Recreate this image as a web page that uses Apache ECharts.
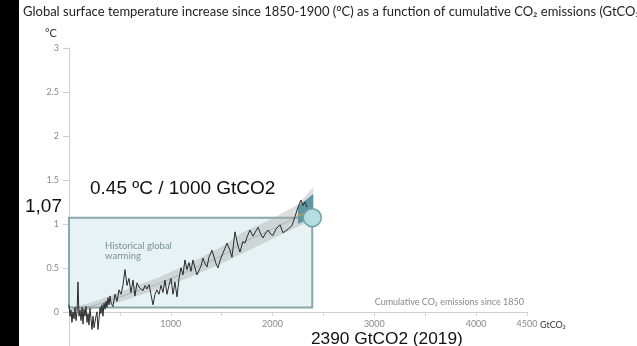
<!DOCTYPE html>
<html>
<head>
<meta charset="utf-8">
<script src="https://cdn.jsdelivr.net/npm/echarts@6/dist/echarts.min.js"></script>
<style>
  html, body { margin: 0; padding: 0; background: #fff; }
  #chart { width: 637px; height: 346px; }
</style>
</head>
<body>
<div id="chart"></div>
<script>
// Cumulative CO2 emissions since 1850 (GtCO2), one entry per year of the record
const cumulativeEmissions = [
  0, 10, 20, 29, 39, 49, 59, 69, 79, 88, 98, 108, 118, 128, 138, 147, 157, 167, 177, 187,
  196, 206, 216, 226, 236, 246, 255, 265, 275, 285, 295, 305, 314, 324, 334, 344, 354, 364, 373, 383,
  393, 403, 413, 432, 452, 472, 491, 511, 530, 550, 570, 589, 609, 629, 648, 668, 688, 707, 727, 747,
  766, 786, 805, 825, 845, 864, 884, 904, 923, 943, 963, 982, 1002, 1022, 1041, 1061, 1081, 1100, 1120, 1139,
  1159, 1179, 1198, 1218, 1238, 1257, 1277, 1297, 1316, 1336, 1356, 1375, 1405, 1424, 1444, 1464, 1483, 1513, 1532, 1552,
  1582, 1601, 1631, 1660, 1680, 1709, 1729, 1749, 1778, 1808, 1827, 1857, 1886, 1906, 1935, 1955, 1984, 2004, 2033, 2073,
  2102, 2131, 2161, 2191, 2220, 2250, 2279, 2299, 2318, 2338
];
// Observed global surface warming relative to 1850-1900 (°C)
const observedWarming = [
  0.08, -0.05, 0.02, -0.12, 0.0, -0.08, 0.05, -0.1, 0.0, 0.34, -0.05, 0.02, -0.1, 0.05, -0.14, 0.03, -0.05, 0.06, -0.12, -0.02,
  -0.15, 0.04, -0.08, -0.2, -0.05, -0.18, -0.17, -0.05, 0.0, -0.2, -0.08, 0.05, -0.02, 0.08, -0.05, 0.1, 0.03, 0.12, 0.05, 0.16,
  0.08, 0.18, 0.1, 0.06, 0.2, 0.12, 0.25, 0.2, 0.3, 0.48, 0.3, 0.38, 0.22, 0.36, 0.18, 0.33, 0.28, 0.3, 0.24, 0.3,
  0.26, 0.31, 0.2, 0.08, 0.2, 0.25, 0.2, 0.3, 0.22, 0.36, 0.2, 0.3, 0.38, 0.2, 0.34, 0.17, 0.38, 0.5, 0.42, 0.59,
  0.48, 0.56, 0.46, 0.59, 0.5, 0.42, 0.47, 0.52, 0.61, 0.55, 0.51, 0.62, 0.7, 0.68, 0.55, 0.5, 0.58, 0.67, 0.72, 0.78,
  0.7, 0.62, 0.91, 0.75, 0.68, 0.8, 0.78, 0.85, 0.93, 0.86, 0.85, 0.96, 0.88, 0.84, 0.9, 0.93, 0.88, 0.87, 0.94, 0.99,
  0.9, 0.92, 0.95, 0.98, 1.08, 1.19, 1.27, 1.21, 1.25, 1.19
];

// Likely range of the warming response to cumulative emissions
const rangeEmissions = [0, 200, 400, 600, 900, 1200, 1500, 1700, 2000, 2250, 2400];
const rangeLower     = [0, 0.02, 0.08, 0.15, 0.27, 0.4, 0.55, 0.66, 0.83, 0.97, 1.04];
const rangeUpper     = [0.04, 0.1, 0.18, 0.27, 0.4, 0.56, 0.74, 0.9, 1.06, 1.22, 1.42];
const rangeCentral   = [0.02, 0.06, 0.13, 0.21, 0.33, 0.48, 0.64, 0.78, 0.94, 1.09, 1.2];

// Recent-period projection wedge and its central estimate
const wedgeEmissions = [2250, 2400, 2400, 2250];
const wedgeWarming   = [1.2, 1.34, 1.08, 1.0];
const recentCentralEmissions = [2240, 2338];
const recentCentralWarming   = [1.09, 1.13];

// 2019 reference point
const emissions2019 = 2390;
const warming2019 = 1.07;
const boxBase = 0.05;

// Axis ticks and labels
const xTicks = [0, 500, 1000, 1500, 2000, 2500, 3000, 3500, 4000, 4500];
const xLabels = [1000, 2000, 3000, 4000, 4500];
const yLabels = [0, 0.5, 1, 1.5, 2, 2.5, 3];

// Texts
const titleText = 'Global surface temperature increase since 1850-1900 (°C) as a function of cumulative CO₂ emissions (GtCO₂)';
const xAxisTitle = 'Cumulative CO₂ emissions since 1850';
const xUnit = 'GtCO₂';
const yUnit = '°C';
const historyLabel = 'Historical global\nwarming';
const rateLabel = '0.45 ºC / 1000 GtCO2';
const warmingLabel = '1,07';
const emissionsLabel = '2390 GtCO2 (2019)';

const chart = echarts.init(document.getElementById('chart'), null, { renderer: 'canvas' });

const observed = cumulativeEmissions.map((e, i) => [e, observedWarming[i]]);
const rangeData = rangeEmissions.map((e, i) => [e, rangeLower[i], rangeUpper[i]]);
const centralData = rangeEmissions.map((e, i) => [e, rangeCentral[i]]);
const wedgeData = wedgeEmissions.map((e, i) => [e, wedgeWarming[i]]);
const recentCentral = recentCentralEmissions.map((e, i) => [e, recentCentralWarming[i]]);

function polygonSeries(name, points, style, z) {
  return {
    name, type: 'custom', z, silent: true, clip: false,
    data: [0],
    encode: { x: [], y: [] },
    renderItem: function (params, api) {
      return { type: 'polygon', shape: { points: points(api) }, style };
    }
  };
}

const font = 'Lato, "Open Sans", sans-serif';
const bigFont = '"Liberation Sans", Arial, sans-serif';

// Plot area; the warming axis runs a little below zero
const gridBox = { left: 69, top: 48, width: 458, height: 299 };
const yMin = -0.4, yMax = 3;
// shift the emissions axis up from the grid bottom to the zero line
const xAxisOffset = -gridBox.height * (0 - yMin) / (yMax - yMin);

chart.setOption({
  animation: false,
  backgroundColor: '#ffffff',
  title: {
    text: titleText,
    left: 18, top: 0,
    textStyle: { fontFamily: font, fontSize: 13, fontWeight: 'normal', color: '#222' }
  },
  grid: Object.assign({ outerBoundsMode: 'none', containLabel: false }, gridBox),
  xAxis: {
    type: 'value', min: 0, max: 4500, interval: 500,
    position: 'bottom', offset: xAxisOffset,
    name: xAxisTitle,
    nameLocation: 'end', nameGap: -3,
    nameTextStyle: { fontFamily: font, fontSize: 9, color: '#8a8a8a', align: 'right', verticalAlign: 'bottom', padding: [0, 0, 5, 0] },
    axisLine: { onZero: false, lineStyle: { color: '#cfcfcf', width: 1 } },
    axisTick: { show: true, length: 4, lineStyle: { color: '#cfcfcf' }, customValues: xTicks },
    axisLabel: {
      customValues: xLabels, margin: 8, fontFamily: font, fontSize: 9, color: '#8a8a8a',
      formatter: v => String(v)
    },
    splitLine: { show: false }
  },
  yAxis: {
    type: 'value', min: yMin, max: yMax,
    axisLine: { lineStyle: { color: '#cfcfcf', width: 1 } },
    axisTick: { show: true, length: 6, lineStyle: { color: '#cfcfcf' }, customValues: yLabels },
    axisLabel: {
      customValues: yLabels, margin: 10, fontFamily: font, fontSize: 9, color: '#8a8a8a',
      formatter: v => String(v)
    },
    splitLine: { show: false }
  },
  series: [
    // 2019 box from the origin
    polygonSeries('box', function (api) {
      return [
        api.coord([0, boxBase]), api.coord([emissions2019, boxBase]),
        api.coord([emissions2019, warming2019]), api.coord([0, warming2019])
      ];
    }, { fill: '#e7f2f4', stroke: '#87a8ac', lineWidth: 2 }, 1),
    // likely range band
    polygonSeries('range', function (api) {
      const up = rangeData.map(d => api.coord([d[0], d[2]]));
      const lo = rangeData.slice().reverse().map(d => api.coord([d[0], d[1]]));
      return up.concat(lo);
    }, { fill: 'rgba(165,165,165,0.38)' }, 2),
    // recent projection wedge
    polygonSeries('wedge', function (api) {
      return wedgeData.map(d => api.coord(d));
    }, { fill: '#5f98a4' }, 3),
    {
      name: 'central', type: 'line', data: centralData, z: 4, silent: true,
      symbol: 'none', smooth: true,
      lineStyle: { color: 'rgba(150,150,150,0.55)', width: 1 }
    },
    {
      name: 'recent central', type: 'line', data: recentCentral, z: 5, silent: true,
      symbol: 'none', lineStyle: { color: '#e2a04a', width: 1 }
    },
    {
      name: 'observed', type: 'line', data: observed, z: 6, silent: true,
      symbol: 'none', lineStyle: { color: '#2a2a2a', width: 1 }
    },
    {
      name: '2019', type: 'scatter', data: [[emissions2019, warming2019]], z: 7, silent: true,
      symbolSize: 18,
      itemStyle: { color: '#b4dde1', borderColor: '#6e9ea4', borderWidth: 1.5, opacity: 1 }
    }
  ]
});

// Unit and annotation texts
const p4500 = chart.convertToPixel({ gridIndex: 0 }, [4500, 0]);
const pTop = chart.convertToPixel({ gridIndex: 0 }, [0, 3]);
chart.setOption({
  graphic: [
    { type: 'rect', left: 0, top: 0, shape: { width: 19, height: 346 }, style: { fill: '#000' }, z: 100 },
    { type: 'text', x: pTop[0] - 18, y: pTop[1] - 15,
      style: { text: yUnit, fontFamily: font, fontSize: 11, fill: '#333', align: 'center', verticalAlign: 'middle' } },
    { type: 'text', x: p4500[0] + 13, y: p4500[1] + 13,
      style: { text: xUnit, fontFamily: font, fontSize: 9, fill: '#333', align: 'left', verticalAlign: 'middle' } },
    { type: 'text', x: 105, y: 251,
      style: { text: historyLabel, fontFamily: font, fontSize: 9.5, lineHeight: 10, fill: '#7b9094', align: 'left', verticalAlign: 'middle' }, z: 50 },
    { type: 'text', x: 90, y: 189,
      style: { text: rateLabel, fontFamily: bigFont, fontSize: 19, fill: '#111', align: 'left', verticalAlign: 'middle' }, z: 50 },
    { type: 'text', x: 62, y: 207,
      style: { text: warmingLabel, fontFamily: bigFont, fontSize: 19, fill: '#111', align: 'right', verticalAlign: 'middle' }, z: 50 },
    { type: 'text', x: 311, y: 339,
      style: { text: emissionsLabel, fontFamily: bigFont, fontSize: 17.3, fill: '#111', align: 'left', verticalAlign: 'middle' }, z: 50 }
  ]
});
</script>
</body>
</html>
